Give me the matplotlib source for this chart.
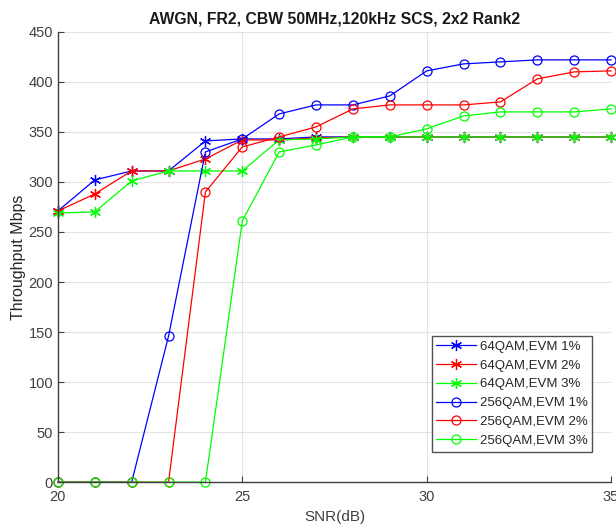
import matplotlib
matplotlib.use("Agg")
import matplotlib.pyplot as plt

plt.rcParams["font.family"] = ["Liberation Sans", "DejaVu Sans"]

snr = [20, 21, 22, 23, 24, 25, 26, 27, 28, 29, 30, 31, 32, 33, 34, 35]

qam64_evm1 = [271, 302, 311, 311, 341, 343, 343, 345, 345, 345, 345, 345, 345, 345, 345, 345]
qam64_evm2 = [271, 288, 311, 311, 323, 342, 342, 344, 345, 345, 345, 345, 345, 345, 345, 345]
qam64_evm3 = [269, 270, 301, 311, 311, 311, 342, 343, 345, 345, 345, 345, 345, 345, 345, 345]
qam256_evm1 = [0, 0, 0, 146, 330, 343, 368, 377, 377, 386, 411, 418, 420, 422, 422, 422]
qam256_evm2 = [0, 0, 0, 0, 290, 335, 345, 355, 373, 377, 377, 377, 380, 403, 410, 411]
qam256_evm3 = [0, 0, 0, 0, 0, 261, 330, 337, 345, 345, 353, 366, 370, 370, 370, 373]

labels = ["64QAM,EVM 1%", "64QAM,EVM 2%", "64QAM,EVM 3%",
          "256QAM,EVM 1%", "256QAM,EVM 2%", "256QAM,EVM 3%"]

fig = plt.figure(figsize=(6.16, 5.31), dpi=100)
ax = fig.add_axes([0.094, 0.092, 0.898, 0.848])

# MATLAB-style asterisk: 3 crossing strokes, one vertical
asterisk = (6, 2, 0)

series = [
    (qam64_evm1, "#0000ff", "*"),
    (qam64_evm2, "#ff0000", "*"),
    (qam64_evm3, "#00ff00", "*"),
    (qam256_evm1, "#0000ff", "o"),
    (qam256_evm2, "#ff0000", "o"),
    (qam256_evm3, "#00ff00", "o"),
]
for (vals, col, mk), lab in zip(series, labels):
    if mk == "o":
        ax.plot(snr, vals, color=col, lw=0.9, marker="o", ms=6.5,
                mfc="none", mec=col, mew=0.9, label=lab, clip_on=False)
    else:
        ax.plot(snr, vals, color=col, lw=0.9, marker=asterisk, ms=8,
                mec=col, mew=0.9, label=lab, clip_on=False)

ax.set_xlim(20, 35)
ax.set_ylim(0, 450)
ax.set_xticks([20, 25, 30, 35])
ax.set_yticks(range(0, 451, 50))
ax.grid(True, color="#e3e3e3", lw=0.8)
ax.set_axisbelow(True)
for s in ["top", "right"]:
    ax.spines[s].set_visible(False)
for s in ["left", "bottom"]:
    ax.spines[s].set_color("#404040")
    ax.spines[s].set_linewidth(1.0)
ax.tick_params(direction="in", length=4, colors="#404040", labelsize=10.5,
               labelcolor="#404040")
ax.tick_params(axis="x", pad=6)

ax.set_xlabel("SNR(dB)", fontsize=11, color="#404040", labelpad=4)
ax.set_ylabel("Throughput Mbps", fontsize=11.5, color="#262626", labelpad=2)
ax.set_title("AWGN, FR2, CBW 50MHz,120kHz SCS, 2x2 Rank2",
             fontsize=11.3, fontweight="bold", color="#1a1a1a", pad=6)

leg = ax.legend(loc="lower right", bbox_to_anchor=(0.966, 0.068),
                fontsize=9.5, frameon=True, fancybox=False,
                handlelength=3.0, borderpad=0.35, labelspacing=0.5,
                handletextpad=0.3, borderaxespad=0)
leg.get_frame().set_edgecolor("#262626")
leg.get_frame().set_linewidth(1.0)
for t in leg.get_texts():
    t.set_color("#262626")

fig.savefig("out.png", dpi=100)
